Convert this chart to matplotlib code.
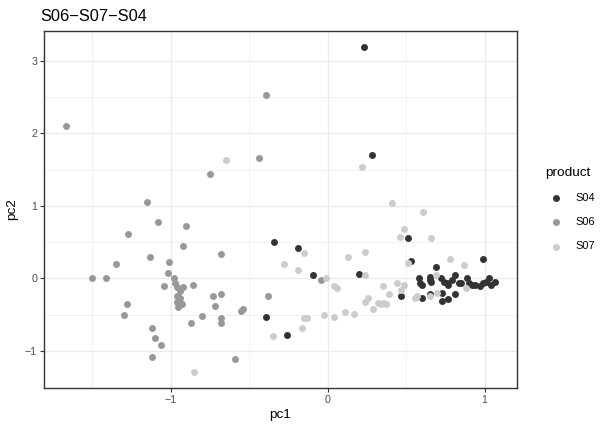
import matplotlib
matplotlib.use("Agg")
import matplotlib.pyplot as plt
from matplotlib.ticker import FixedLocator

plt.rcParams['font.family'] = ['Liberation Sans', 'DejaVu Sans']

title = "S06\u2212S07\u2212S04"
products = ["S04", "S06", "S07"]
colors = {"S04": "#333333", "S06": "#989898", "S07": "#CCCCCC"}

s04_pc1 = [0.23, 0.28, -0.34, -0.19, -0.09, -0.39, -0.26, 0.20, 0.51, 0.53, 0.47, 0.99, 0.69,
           0.58, 0.59, 0.60, 0.65, 0.65, 0.66, 0.72, 0.74, 0.76, 0.77, 0.79, 0.81, 0.84, 0.85,
           0.89, 0.90, 0.92, 0.94, 0.97, 0.99, 1.01, 1.03, 1.04, 1.07,
           0.60, 0.73, 0.73, 0.77, 0.81, 0.65]
s04_pc2 = [3.19, 1.70, 0.50, 0.42, 0.04, -0.53, -0.78, 0.06, 0.55, 0.24, -0.25, 0.27, 0.16,
           0.00, -0.06, -0.09, 0.02, -0.02, -0.05, 0.00, -0.05, -0.06, -0.09, -0.02, 0.04, -0.06, -0.06,
           0.01, -0.06, -0.09, -0.09, -0.11, -0.06, -0.05, 0.01, -0.09, -0.05,
           -0.27, -0.20, -0.31, -0.28, -0.21, -0.21]

s06_pc1 = [-1.67, -0.39, -0.44, -0.75, -1.15, -1.08, -0.90, -1.27, -0.92, -0.68, -1.13, -1.35,
           -1.01, -1.02, -1.50, -1.41, -0.98, -0.97, -1.04, -0.96, -0.92, -0.86, -0.94, -0.96,
           -0.94, -0.96, -0.93, -0.95, -1.28, -1.30, -0.73, -0.68, -0.72, -0.80, -0.87, -0.68,
           -0.68, -1.12, -1.10, -1.06, -1.12, -0.59, -0.04, -0.38, -0.55, -0.54]
s06_pc2 = [2.10, 2.53, 1.66, 1.44, 1.05, 0.78, 0.72, 0.61, 0.45, 0.34, 0.30, 0.20,
           0.23, 0.08, 0.00, 0.00, 0.01, -0.06, -0.10, -0.12, -0.12, -0.09, -0.17, -0.24,
           -0.27, -0.32, -0.35, -0.39, -0.35, -0.51, -0.25, -0.21, -0.38, -0.52, -0.61, -0.55,
           -0.61, -0.69, -0.82, -0.92, -1.08, -1.12, -0.02, -0.25, -0.45, -0.42]

s07_pc1 = [-0.65, 0.22, 0.41, 0.49, 0.46, 0.61, 0.66, 0.78, 0.87, 0.69, 0.51, -0.15, -0.28,
           -0.19, -0.01, 0.04, 0.06, 0.13, 0.24, 0.24, -0.35, -0.16, -0.15, -0.13, -0.02, 0.04,
           0.11, 0.17, -0.85, 0.35, 0.44, 0.49, 0.47, 0.39, 0.26, 0.24, 0.29, 0.32, 0.34, 0.36,
           0.37, 0.56, 0.57, 0.65, 0.70, 0.88]
s07_pc2 = [1.63, 1.54, 1.04, 0.68, 0.57, 0.92, 0.55, 0.27, 0.19, 0.04, 0.21, 0.35, 0.20,
           0.11, 0.01, -0.11, -0.13, 0.30, 0.37, 0.05, -0.79, -0.68, -0.55, -0.55, -0.50, -0.53,
           -0.47, -0.49, -1.29, -0.10, -0.06, -0.09, -0.16, -0.22, -0.27, -0.33, -0.43, -0.34, -0.36, -0.34,
           -0.36, -0.27, -0.25, -0.24, -0.20, -0.14]

data = {"S04": (s04_pc1, s04_pc2), "S06": (s06_pc1, s06_pc2), "S07": (s07_pc1, s07_pc2)}

x_major = [-1, 0, 1]
x_minor = [-1.5, -0.5, 0.5]
y_major = [-1, 0, 1, 2, 3]
y_minor = [-0.5, 0.5, 1.5, 2.5]

fig = plt.figure(figsize=(6.15, 4.34), dpi=100)
ax = fig.add_axes([44/615, 1-388/434, (517-44)/615, (388-31)/434])

for p in products:
    xs, ys = data[p]
    ax.scatter(xs, ys, s=25, color=colors[p], label=p, linewidths=0, zorder=3)

allx = s04_pc1 + s06_pc1 + s07_pc1
ally = s04_pc2 + s06_pc2 + s07_pc2
xr = max(allx) - min(allx)
yr = max(ally) - min(ally)
ax.set_xlim(min(allx) - 0.05*xr, max(allx) + 0.05*xr)
ax.set_ylim(min(ally) - 0.05*yr, max(ally) + 0.05*yr)

ax.xaxis.set_major_locator(FixedLocator(x_major))
ax.yaxis.set_major_locator(FixedLocator(y_major))
ax.xaxis.set_minor_locator(FixedLocator(x_minor))
ax.yaxis.set_minor_locator(FixedLocator(y_minor))
ax.grid(which='major', color='#EBEBEB', linewidth=0.95, zorder=0)
ax.grid(which='minor', color='#EBEBEB', linewidth=0.5, zorder=0)
ax.set_axisbelow(True)
ax.tick_params(which='minor', length=0)
ax.tick_params(which='major', length=3, width=0.8, color='#333333',
               labelsize=7.7, labelcolor='#4D4D4D', pad=2)
for sp in ax.spines.values():
    sp.set_color('#333333')
    sp.set_linewidth(1.0)

ax.set_xlabel("pc1", fontsize=9.7, labelpad=3)
ax.set_ylabel("pc2", fontsize=9.7, labelpad=5)
ax.set_title(title, fontsize=11.8, loc='left', x=-0.008, pad=7)

leg = ax.legend(title="product", loc='center left', bbox_to_anchor=(545/615, 225/434),
                bbox_transform=fig.transFigure, frameon=False, fontsize=7.9,
                title_fontsize=9.7, labelspacing=1.3, handletextpad=0.8,
                markerscale=1.0, borderaxespad=0, borderpad=0)
leg._legend_box.align = "left"

fig.savefig("out.png", dpi=100)
